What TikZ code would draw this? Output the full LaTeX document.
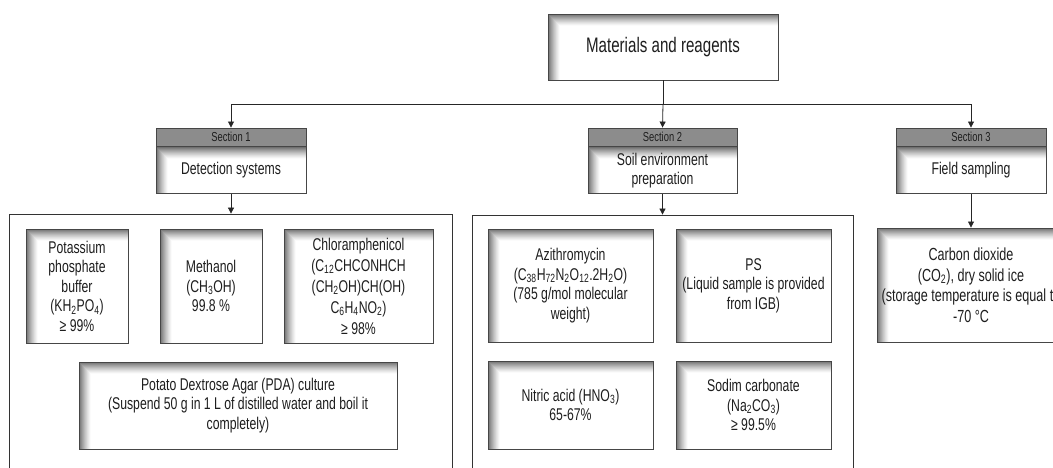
\documentclass[tikz,border=0pt]{standalone}
\usepackage{fontspec}
\setmainfont{Liberation Sans}[FakeStretch=0.72]
\usetikzlibrary{arrows.meta}
\definecolor{boxc}{RGB}{70,70,70}
\definecolor{shc}{RGB}{112,112,112}
\definecolor{hdr}{RGB}{140,140,140}
\definecolor{txt}{RGB}{30,30,30}
\tikzset{
  shadowed/.style={path picture={
    \foreach \i [evaluate=\i as \p using {int(100*(1-\i/12)^1.3)}] in {0,...,11}
      \draw[line width=1.05pt, color=shc!\p!white]
        ([xshift={(\i+0.5)*1pt}]path picture bounding box.south west)
        -- ([xshift={(\i+0.5)*1pt},yshift={-(\i+0.5)*1pt}]path picture bounding box.north west)
        -- ([yshift={-(\i+0.5)*1pt}]path picture bounding box.north east);
  }},
  ibox/.style={draw=boxc, line width=0.9pt, fill=white, inner sep=0pt, align=center, text=txt,
    font={\fontsize{17}{19.5}\selectfont}, shadowed},
  obox/.style={draw=black!80, line width=0.8pt, fill=white, inner sep=0pt},
  hbox/.style={draw=boxc, line width=0.9pt, fill=hdr, inner sep=0pt, text=txt,
    font={\fontsize{13}{14}\selectfont}, minimum height=18pt},
  sbox/.style={draw=boxc, line width=0.9pt, fill=white, inner sep=0pt, align=center, text=txt,
    font={\fontsize{17}{19}\selectfont}, minimum height=47pt, shadowed},
  conn/.style={draw=black!85, line width=0.8pt},
  arr/.style={conn, -{Triangle[length=6pt,width=6pt]}}
}
\begin{document}
\begin{tikzpicture}[x=1pt,y=-1pt]
\useasboundingbox (0,0) rectangle (1053,468);
\clip (0,0) rectangle (1053,468);
\fill[white] (0,0) rectangle (1053,468);

% top
\node[ibox, font={\fontsize{21}{24}\selectfont}, minimum width=230pt, minimum height=66pt] (top) at (663,47) {Materials and reagents};

% sections
\node[hbox, minimum width=150pt] (h1) at (231,137) {Section 1};
\node[sbox, minimum width=150pt, anchor=north] (s1) at (h1.south) {Detection systems};
\node[hbox, minimum width=149pt] (h2) at (662.5,137) {Section 2};
\node[sbox, minimum width=149pt, anchor=north] (s2) at (h2.south) {Soil environment\\preparation};
\node[hbox, minimum width=150pt] (h3) at (971,137) {Section 3};
\node[sbox, minimum width=150pt, anchor=north] (s3) at (h3.south) {Field sampling};

% outer frames
\node[obox, minimum width=443pt, minimum height=262pt] (o1) at (230.5,345) {};
\node[obox, minimum width=381pt, minimum height=262pt] (o2) at (662.5,346) {};

% section 1 items
\node[ibox, minimum width=102pt, minimum height=114pt] (pot) at (77,286) {Potassium\\phosphate\\buffer\\(KH\textsubscript{2}PO\textsubscript{4})\\≥ 99\%};
\node[ibox, minimum width=102pt, minimum height=114pt] (meth) at (211,286) {Methanol\\(CH\textsubscript{3}OH)\\99.8 \%};
\node[ibox, minimum width=149pt, minimum height=114pt, font={\fontsize{17}{21}\selectfont}] (chl) at (358.5,286) {Chloramphenicol\\(C\textsubscript{12}CHCONHCH\\(CH\textsubscript{2}OH)CH(OH)\\C\textsubscript{6}H\textsubscript{4}NO\textsubscript{2})\\≥ 98\%};
\node[ibox, minimum width=318pt, minimum height=87pt] (pda) at (238,405.5) {Potato Dextrose Agar (PDA) culture\\(Suspend 50 g in 1 L of distilled water and boil it\\completely)};

% section 2 items
\node[ibox, minimum width=165pt, minimum height=113pt] (azi) at (570.5,285.5) {Azithromycin\\(C\textsubscript{38}H\textsubscript{72}N\textsubscript{2}O\textsubscript{12}.2H\textsubscript{2}O)\\(785 g/mol molecular\\weight)};
\node[ibox, minimum width=155pt, minimum height=113pt] (ps) at (753.5,285.5) {PS\\(Liquid sample is provided\\from IGB)};
\node[ibox, minimum width=165pt, minimum height=88pt] (nit) at (570.5,405) {Nitric acid (HNO\textsubscript{3})\\65-67\%};
\node[ibox, minimum width=155pt, minimum height=88pt] (sod) at (753.5,405) {Sodim carbonate\\(Na\textsubscript{2}CO\textsubscript{3})\\≥ 99.5\%};

% section 3 item
\node[ibox, minimum width=188pt, minimum height=114pt, font={\fontsize{17.5}{20.5}\selectfont}] (co2) at (971,285) {Carbon dioxide\\(CO\textsubscript{2}), dry solid ice\\(storage temperature is equal to\\-70 °C};

% connectors
\coordinate (j) at (663,104);
\draw[conn] (top.south) -- (j);
\draw[arr] (j) -| (h1.north);
\draw[arr] (j) -- (h2.north);
\draw[arr] (j) -| (h3.north);
\draw[arr] (s1.south) -- (s1.south |- o1.north);
\draw[arr] (s2.south) -- (s2.south |- o2.north);
\draw[arr] (s3.south) -- (co2.north);
\end{tikzpicture}
\end{document}
